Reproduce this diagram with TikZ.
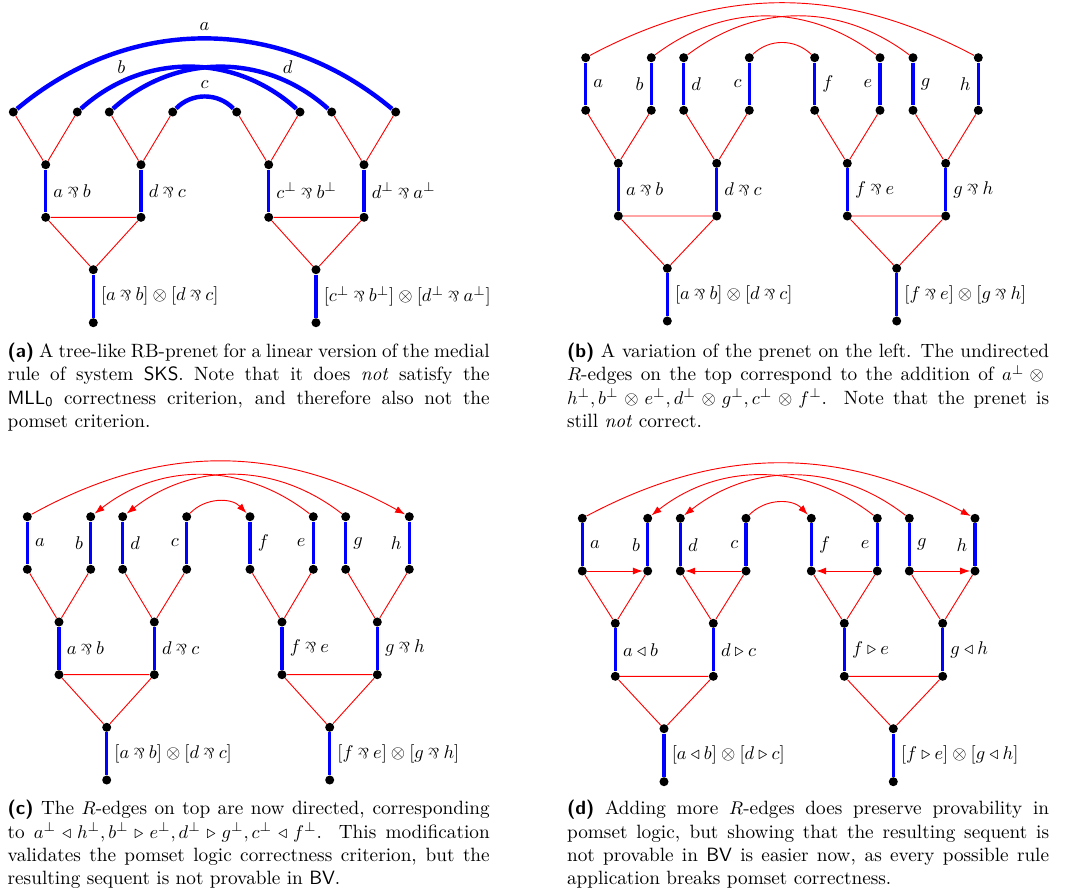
\documentclass[tikz,border=0pt]{standalone}
\usepackage{amsmath, amssymb}
\usepackage{fontspec}
\usetikzlibrary{arrows.meta}
\newcommand{\parr}{\mathbin{\rotatebox[origin=c]{180}{\scalebox{0.8}{$\&$}}}}

\tikzset{
  vx/.style={circle, fill=black, inner sep=0pt, minimum size=4.9pt},
  redge/.style={draw=red, line width=0.5pt},
  bedge/.style={draw=blue, line width=1.8pt},
  barc/.style={draw=blue, line width=2.4pt},
  rarc/.style={draw=red, line width=0.5pt, -{Latex[length=5.4pt,width=3.8pt]}},
  caption/.style={anchor=north west, inner sep=0pt, align=justify, text width=262pt,
    font=\fontsize{10.45pt}{12.65pt}\selectfont},
}

\begin{document}
\begin{tikzpicture}[x=0.5435pt,y=0.5435pt,yscale=-1,xscale=1]
\useasboundingbox (0,0) rectangle (1065,889);

%Panel (a): vertices
\node[vx] (a-t1) at (13.3,112) {};
\node[vx] (a-t2) at (77.3,112) {};
\node[vx] (a-t3) at (109.3,112) {};
\node[vx] (a-t4) at (172.7,112) {};
\node[vx] (a-t5) at (236.7,112) {};
\node[vx] (a-t6) at (300,112) {};
\node[vx] (a-t7) at (331.7,112) {};
\node[vx] (a-t8) at (395.7,112) {};
\node[vx] (a-m1) at (45.7,164.7) {};
\node[vx] (a-m2) at (141,164.7) {};
\node[vx] (a-m3) at (268.7,164.7) {};
\node[vx] (a-m4) at (364,164.7) {};
\node[vx] (a-l1) at (45.7,217.3) {};
\node[vx] (a-l2) at (141,217.3) {};
\node[vx] (a-l3) at (268.7,217.3) {};
\node[vx] (a-l4) at (364,217.3) {};
\node[vx] (a-r1) at (93.3,269.7) {};
\node[vx] (a-r2) at (316,269.7) {};
\node[vx] (a-b1) at (93.3,322.7) {};
\node[vx] (a-b2) at (316,322.7) {};
%Panel (a): edges
\draw[redge] (a-t1) -- (a-m1) -- (a-t2);
\draw[redge] (a-t3) -- (a-m2) -- (a-t4);
\draw[redge] (a-t5) -- (a-m3) -- (a-t6);
\draw[redge] (a-t7) -- (a-m4) -- (a-t8);
\draw[bedge] (a-m1) -- node[right] {$a \parr b$} (a-l1);
\draw[bedge] (a-m2) -- node[right] {$d \parr c$} (a-l2);
\draw[bedge] (a-m3) -- node[right] {$c^\bot \parr b^\bot$} (a-l3);
\draw[bedge] (a-m4) -- node[right] {$d^\bot \parr a^\bot$} (a-l4);
\draw[redge] (a-l1) -- (a-l2) -- (a-r1) -- (a-l1);
\draw[redge] (a-l3) -- (a-l4) -- (a-r2) -- (a-l3);
\draw[bedge] (a-r1) -- node[right] {$[a \parr b] \otimes [d \parr c]$} (a-b1);
\draw[bedge] (a-r2) -- node[right] {$[c^\bot \parr b^\bot] \otimes [d^\bot \parr a^\bot]$} (a-b2);
%Panel (a): axiom arcs
\draw[barc] (a-t1) to[bend right=40] node[above] {$a$} (a-t8);
\draw[barc] (a-t2) to[bend right=42] node[pos=0.2, above] {$b$} (a-t6);
\draw[barc] (a-t3) to[bend right=42] node[pos=0.8, above] {$d$} (a-t7);
\draw[barc] (a-t4) to[bend right=46] node[above] {$c$} (a-t5);

%Panel (b): vertices
\node[vx] (b-t1) at (585.7,57.7) {};
\node[vx] (b-t2) at (651.3,57.7) {};
\node[vx] (b-t3) at (683.7,57.7) {};
\node[vx] (b-t4) at (749.3,57.7) {};
\node[vx] (b-t5) at (814.7,57.7) {};
\node[vx] (b-t6) at (880,57.7) {};
\node[vx] (b-t7) at (913,57.7) {};
\node[vx] (b-t8) at (978.3,57.7) {};
\node[vx] (b-s1) at (585.7,110.3) {};
\node[vx] (b-s2) at (651.3,110.3) {};
\node[vx] (b-s3) at (683.7,110.3) {};
\node[vx] (b-s4) at (749.3,110.3) {};
\node[vx] (b-s5) at (814.7,110.3) {};
\node[vx] (b-s6) at (880,110.3) {};
\node[vx] (b-s7) at (913,110.3) {};
\node[vx] (b-s8) at (978.3,110.3) {};
\node[vx] (b-m1) at (618.3,163.3) {};
\node[vx] (b-m2) at (716.7,163.3) {};
\node[vx] (b-m3) at (847.3,163.3) {};
\node[vx] (b-m4) at (945.7,163.3) {};
\node[vx] (b-l1) at (618.3,216) {};
\node[vx] (b-l2) at (716.7,216) {};
\node[vx] (b-l3) at (847.3,216) {};
\node[vx] (b-l4) at (945.7,216) {};
\node[vx] (b-r1) at (667.3,268.3) {};
\node[vx] (b-r2) at (896.7,268.3) {};
\node[vx] (b-b1) at (667.3,321) {};
\node[vx] (b-b2) at (896.7,321) {};
%Panel (b): edges
\draw[bedge] (b-t1) -- node[right] {$a$} (b-s1);
\draw[bedge] (b-t2) -- node[left] {$b$} (b-s2);
\draw[bedge] (b-t3) -- node[right] {$d$} (b-s3);
\draw[bedge] (b-t4) -- node[left] {$c$} (b-s4);
\draw[bedge] (b-t5) -- node[right] {$f$} (b-s5);
\draw[bedge] (b-t6) -- node[left] {$e$} (b-s6);
\draw[bedge] (b-t7) -- node[right] {$g$} (b-s7);
\draw[bedge] (b-t8) -- node[left] {$h$} (b-s8);
\draw[redge] (b-s1) -- (b-m1) -- (b-s2);
\draw[redge] (b-s3) -- (b-m2) -- (b-s4);
\draw[redge] (b-s5) -- (b-m3) -- (b-s6);
\draw[redge] (b-s7) -- (b-m4) -- (b-s8);
\draw[bedge] (b-m1) -- node[right] {$a \parr b$} (b-l1);
\draw[bedge] (b-m2) -- node[right] {$d \parr c$} (b-l2);
\draw[bedge] (b-m3) -- node[right] {$f \parr e$} (b-l3);
\draw[bedge] (b-m4) -- node[right] {$g \parr h$} (b-l4);
\draw[redge] (b-l1) -- (b-l2) -- (b-r1) -- (b-l1);
\draw[redge] (b-l3) -- (b-l4) -- (b-r2) -- (b-l3);
\draw[bedge] (b-r1) -- node[right] {$[a \parr b] \otimes [d \parr c]$} (b-b1);
\draw[bedge] (b-r2) -- node[right] {$[f \parr e] \otimes [g \parr h]$} (b-b2);
%Panel (b): R-edges on top
\draw[redge] (b-t1) to[bend right=28] (b-t8);
\draw[redge] (b-t2) to[bend right=37] (b-t6);
\draw[redge] (b-t3) to[bend right=37] (b-t7);
\draw[redge] (b-t4) to[bend right=44] (b-t5);

%Panel (c): vertices
\node[vx] (c-t1) at (27.3,516.7) {};
\node[vx] (c-t2) at (90.7,516.7) {};
\node[vx] (c-t3) at (122.7,516.7) {};
\node[vx] (c-t4) at (186.7,516.7) {};
\node[vx] (c-t5) at (250,516.7) {};
\node[vx] (c-t6) at (313.3,516.7) {};
\node[vx] (c-t7) at (345.7,516.7) {};
\node[vx] (c-t8) at (409.3,516.7) {};
\node[vx] (c-s1) at (27.3,569.3) {};
\node[vx] (c-s2) at (90.7,569.3) {};
\node[vx] (c-s3) at (122.7,569.3) {};
\node[vx] (c-s4) at (186.7,569.3) {};
\node[vx] (c-s5) at (250,569.3) {};
\node[vx] (c-s6) at (313.3,569.3) {};
\node[vx] (c-s7) at (345.7,569.3) {};
\node[vx] (c-s8) at (409.3,569.3) {};
\node[vx] (c-m1) at (59,622) {};
\node[vx] (c-m2) at (154.3,622) {};
\node[vx] (c-m3) at (282,622) {};
\node[vx] (c-m4) at (377.3,622) {};
\node[vx] (c-l1) at (59,674.7) {};
\node[vx] (c-l2) at (154.3,674.7) {};
\node[vx] (c-l3) at (282,674.7) {};
\node[vx] (c-l4) at (377.3,674.7) {};
\node[vx] (c-r1) at (106.7,727.3) {};
\node[vx] (c-r2) at (329.7,727.3) {};
\node[vx] (c-b1) at (106.7,780) {};
\node[vx] (c-b2) at (329.7,780) {};
%Panel (c): edges
\draw[bedge] (c-t1) -- node[right] {$a$} (c-s1);
\draw[bedge] (c-t2) -- node[left] {$b$} (c-s2);
\draw[bedge] (c-t3) -- node[right] {$d$} (c-s3);
\draw[bedge] (c-t4) -- node[left] {$c$} (c-s4);
\draw[bedge] (c-t5) -- node[right] {$f$} (c-s5);
\draw[bedge] (c-t6) -- node[left] {$e$} (c-s6);
\draw[bedge] (c-t7) -- node[right] {$g$} (c-s7);
\draw[bedge] (c-t8) -- node[left] {$h$} (c-s8);
\draw[redge] (c-s1) -- (c-m1) -- (c-s2);
\draw[redge] (c-s3) -- (c-m2) -- (c-s4);
\draw[redge] (c-s5) -- (c-m3) -- (c-s6);
\draw[redge] (c-s7) -- (c-m4) -- (c-s8);
\draw[bedge] (c-m1) -- node[right] {$a \parr b$} (c-l1);
\draw[bedge] (c-m2) -- node[right] {$d \parr c$} (c-l2);
\draw[bedge] (c-m3) -- node[right] {$f \parr e$} (c-l3);
\draw[bedge] (c-m4) -- node[right] {$g \parr h$} (c-l4);
\draw[redge] (c-l1) -- (c-l2) -- (c-r1) -- (c-l1);
\draw[redge] (c-l3) -- (c-l4) -- (c-r2) -- (c-l3);
\draw[bedge] (c-r1) -- node[right] {$[a \parr b] \otimes [d \parr c]$} (c-b1);
\draw[bedge] (c-r2) -- node[right] {$[f \parr e] \otimes [g \parr h]$} (c-b2);
%Panel (c): directed R-edges on top
\draw[rarc] (c-t1) to[bend right=29] (c-t8);
\draw[rarc] (c-t6) to[bend left=38] (c-t2);
\draw[rarc] (c-t7) to[bend left=38] (c-t3);
\draw[rarc] (c-t4) to[bend right=46] (c-t5);

%Panel (d): vertices
\node[vx] (d-t1) at (582.3,518.3) {};
\node[vx] (d-t2) at (647.7,518.3) {};
\node[vx] (d-t3) at (680.3,518.3) {};
\node[vx] (d-t4) at (746,518.3) {};
\node[vx] (d-t5) at (811.3,518.3) {};
\node[vx] (d-t6) at (877.3,518.3) {};
\node[vx] (d-t7) at (909.3,518.3) {};
\node[vx] (d-t8) at (975,518.3) {};
\node[vx] (d-s1) at (582.3,571) {};
\node[vx] (d-s2) at (647.7,571) {};
\node[vx] (d-s3) at (680.3,571) {};
\node[vx] (d-s4) at (746,571) {};
\node[vx] (d-s5) at (811.3,571) {};
\node[vx] (d-s6) at (877.3,571) {};
\node[vx] (d-s7) at (909.3,571) {};
\node[vx] (d-s8) at (975,571) {};
\node[vx] (d-m1) at (615.3,623.3) {};
\node[vx] (d-m2) at (713.3,623.3) {};
\node[vx] (d-m3) at (844.3,623.3) {};
\node[vx] (d-m4) at (942.7,623.3) {};
\node[vx] (d-l1) at (615.3,676.3) {};
\node[vx] (d-l2) at (713.3,676.3) {};
\node[vx] (d-l3) at (844.3,676.3) {};
\node[vx] (d-l4) at (942.7,676.3) {};
\node[vx] (d-r1) at (664,728.7) {};
\node[vx] (d-r2) at (893.3,728.7) {};
\node[vx] (d-b1) at (664,781.7) {};
\node[vx] (d-b2) at (893.3,781.7) {};
%Panel (d): edges
\draw[bedge] (d-t1) -- node[right] {$a$} (d-s1);
\draw[bedge] (d-t2) -- node[left] {$b$} (d-s2);
\draw[bedge] (d-t3) -- node[right] {$d$} (d-s3);
\draw[bedge] (d-t4) -- node[left] {$c$} (d-s4);
\draw[bedge] (d-t5) -- node[right] {$f$} (d-s5);
\draw[bedge] (d-t6) -- node[left] {$e$} (d-s6);
\draw[bedge] (d-t7) -- node[right] {$g$} (d-s7);
\draw[bedge] (d-t8) -- node[left] {$h$} (d-s8);
\draw[redge] (d-s1) -- (d-m1) -- (d-s2);
\draw[redge] (d-s3) -- (d-m2) -- (d-s4);
\draw[redge] (d-s5) -- (d-m3) -- (d-s6);
\draw[redge] (d-s7) -- (d-m4) -- (d-s8);
\draw[rarc] (d-s1) -- (d-s2);
\draw[rarc] (d-s4) -- (d-s3);
\draw[rarc] (d-s6) -- (d-s5);
\draw[rarc] (d-s7) -- (d-s8);
\draw[bedge] (d-m1) -- node[right] {$a \triangleleft b$} (d-l1);
\draw[bedge] (d-m2) -- node[right] {$d \triangleright c$} (d-l2);
\draw[bedge] (d-m3) -- node[right] {$f \triangleright e$} (d-l3);
\draw[bedge] (d-m4) -- node[right] {$g \triangleleft h$} (d-l4);
\draw[redge] (d-l1) -- (d-l2) -- (d-r1) -- (d-l1);
\draw[redge] (d-l3) -- (d-l4) -- (d-r2) -- (d-l3);
\draw[bedge] (d-r1) -- node[right] {$[a \triangleleft b] \otimes [d \triangleright c]$} (d-b1);
\draw[bedge] (d-r2) -- node[right] {$[f \triangleright e] \otimes [g \triangleleft h]$} (d-b2);
%Panel (d): directed R-edges on top
\draw[rarc] (d-t1) to[bend right=28] (d-t8);
\draw[rarc] (d-t6) to[bend left=38] (d-t2);
\draw[rarc] (d-t7) to[bend left=38] (d-t3);
\draw[rarc] (d-t4) to[bend right=46] (d-t5);

%Captions
\node[caption] (cap-a) at (7.3,342.7) {\textsf{\textbf{(a)}} A tree-like RB-prenet for a linear version of the medial\linebreak rule of system \textsf{SKS}. Note that it does \emph{not} satisfy the\linebreak $\mathsf{MLL}_\mathsf{0}$ correctness criterion, and therefore also not the\linebreak pomset criterion.};
\node[caption] (cap-b) at (566.7,342.7) {\textsf{\textbf{(b)}} A variation of the prenet on the left. The undirected\linebreak $R$-edges on the top correspond to the addition of $a^\bot \otimes{}$\linebreak $h^\bot, b^\bot \otimes e^\bot, d^\bot \otimes g^\bot, c^\bot \otimes f^\bot$. Note that the prenet is\linebreak still \emph{not} correct.};
\node[caption] (cap-c) at (7.3,800) {\textsf{\textbf{(c)}} The $R$-edges on top are now directed, corresponding\linebreak to $a^\bot \triangleleft h^\bot, b^\bot \triangleright e^\bot, d^\bot \triangleright g^\bot, c^\bot \triangleleft f^\bot$. This modification\linebreak validates the pomset logic correctness criterion, but the\linebreak resulting sequent is not provable in \textsf{BV}.};
\node[caption] (cap-d) at (566.7,800) {\textsf{\textbf{(d)}} Adding more $R$-edges does preserve provability in\linebreak pomset logic, but showing that the resulting sequent is\linebreak not provable in \textsf{BV} is easier now, as every possible rule\linebreak application breaks pomset correctness.};

\end{tikzpicture}
\end{document}
